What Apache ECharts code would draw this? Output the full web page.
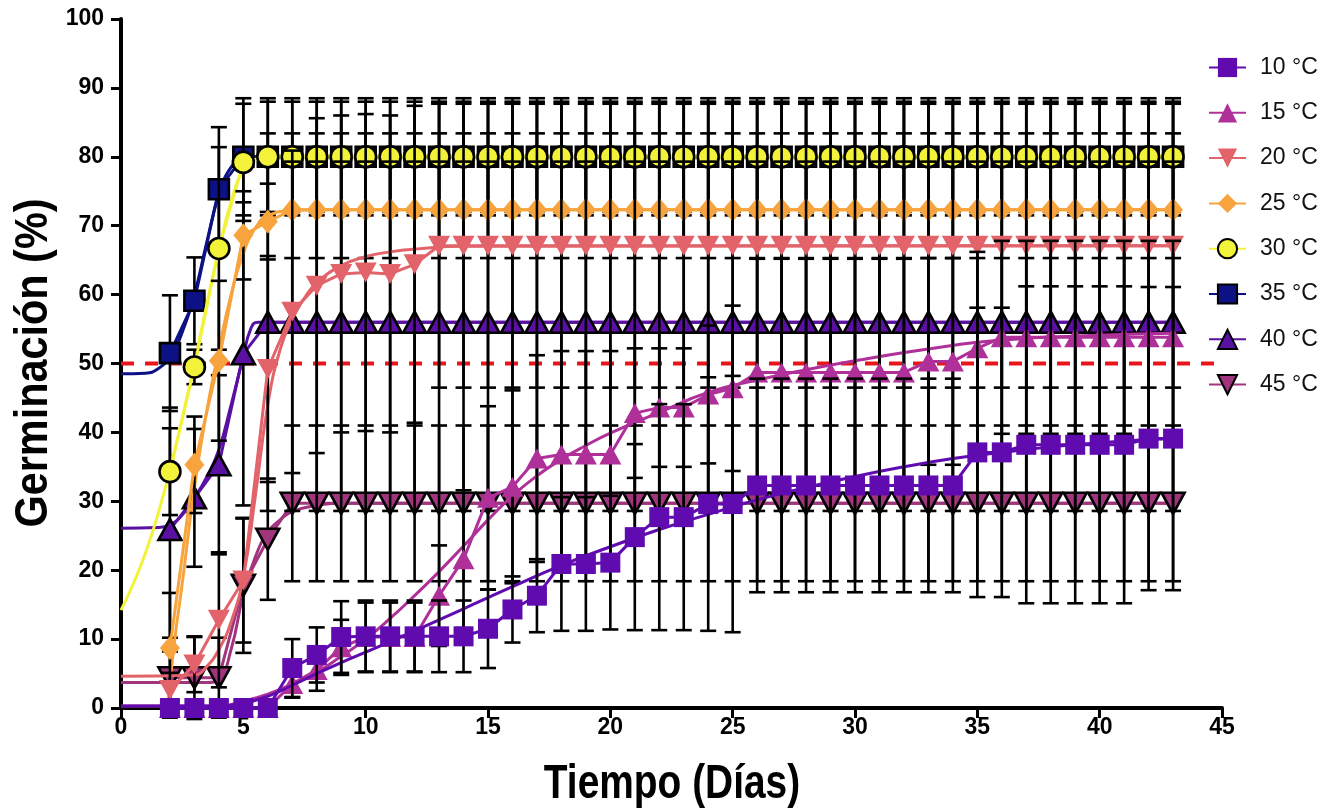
<!DOCTYPE html>
<html><head><meta charset="utf-8">
<script src="https://cdn.jsdelivr.net/npm/echarts@6/dist/echarts.min.js"></script>
<style>html,body{margin:0;padding:0;background:#fff}#c{width:1340px;height:812px}</style>
</head><body><div id="c"></div>
<script>
// ---- data ----
const days = [2,3,4,5,6,7,8,9,10,11,12,13,14,15,16,17,18,19,20,21,22,23,24,25,26,27,28,29,30,31,32,33,34,35,36,37,38,39,40,41,42,43];
const seriesNames = ['10 °C','15 °C','20 °C','25 °C','30 °C','35 °C','40 °C','45 °C'];
const xTitle = 'Tiempo (Días)';
const yTitle = 'Germinación (%)';

const m10 = [0,0,0,0,0, 5.8,7.7,10.3,10.4,10.4,10.4,10.4,10.4,11.5,14.3,16.3,20.9,20.9,21.1, 24.8,27.7,27.7,29.6,29.6, 32.3,32.3,32.3,32.3,32.3,32.3,32.3,32.3,32.3, 37.1,37.1, 38.2,38.2,38.2,38.2,38.2, 39.1,39.1];
const sd10 = [0,0,0,0,0, 4.2,4.0,5.2,5.2,5.2,5.2,5.2,5.2,5.7,4.8,5.3,9.7,9.7,9.7, 13.5,16.4,16.4,18.4,18.6, 15.5,15.5,15.5,15.5,15.5,15.5,15.5,15.5,15.5, 21,21, 23,23,23,23,23, 22,22];

const m15 = [0,0,0,0,0, 3.5,5.5,8.8,10.3,10.3,10.3,16.3,21.6,30.5,32.1,36.2,36.8,36.8,36.8, 42.8,43.6,43.6,45.5,46.4, 48.7,48.7,48.7,48.7,48.7,48.7,48.7,50.3,50.3, 52.2,53.8, 53.8,53.8,53.8,53.8,53.8, 53.8,53.8];
const sd15 = [0,0,0,0,0, 2,3,4,5,5,5,7.3,10,13.3,14,15,15,15,15, 9.4,8.6,8.6,10,12, 16.5,16.5,16.5,16.5,16.5,16.5,16.5,15,15, 14,14, 14,14,14,14,14, 14,14];

const m20 = [2.6,6.3,12.8,18.5,49.2,57.5,61.3,63.0,63.2,63.0,64.4, 67.1,67.1,67.1,67.1,67.1,67.1,67.1,67.1,67.1,67.1,67.1,67.1,67.1,67.1,67.1,67.1,67.1,67.1,67.1,67.1,67.1,67.1,67.1,67.1,67.1,67.1,67.1,67.1,67.1,67.1,67.1];
const sd20 = [2.5,4,9.8,9,16.4,23.4,24.3,23,23,23,23, 20.6,20.6,20.6,20.6,20.6,20.6,20.6,20.6,20.6,20.6,20.6,20.6,20.6,20.6,20.6,20.6,20.6,20.6,20.6,20.6,20.6,20.6,20.6,20.6,20.6,20.6,20.6,20.6,20.6,20.6,20.6];

const m25 = [8.7,35.3,50.4,68.6,70.6, 72.3,72.3,72.3,72.3,72.3,72.3,72.3,72.3,72.3,72.3,72.3,72.3,72.3,72.3,72.3,72.3,72.3,72.3,72.3,72.3,72.3,72.3,72.3,72.3,72.3,72.3,72.3,72.3,72.3,72.3,72.3,72.3,72.3,72.3,72.3,72.3,72.3];
const sd25 = [8,7,11.6,6.4,5.5, 7,7,7,7,7,7,7,7,7,7,7,7,7,7,7,7,7,7,7,7,7,7,7,7,7,7,7,7,7,7,7,7,7,7,7,7,7];

const m30 = [34.3,49.5,66.7,79.2, 80,80,80,80,80,80,80,80,80,80,80,80,80,80,80,80,80,80,80,80,80,80,80,80,80,80,80,80,80,80,80,80,80,80,80,80,80,80];
const sd30 = [6.3,2.5,14.7,8.5, 8,8,8,8,8,8,8,8,8,8,8,8,8,8,8,8,8,8,8,8,8,8,8,8,8,8,8,8,8,8,8,8,8,8,8,8,8,8];

const m35 = [51.5,59.1,75.3, 80,80,80,80,80,80,80,80,80,80,80,80,80,80,80,80,80,80,80,80,80,80,80,80,80,80,80,80,80,80,80,80,80,80,80,80,80,80,80];
const sd35 = [8.4,6.3,9, 8.5,8.5,8.5,8.5,8.5,8.5,8.5,8.5,8.5,8.5,8.5,8.5,8.5,8.5,8.5,8.5,8.5,8.5,8.5,8.5,8.5,8.5,8.5,8.5,8.5,8.5,8.5,8.5,8.5,8.5,8.5,8.5,8.5,8.5,8.5,8.5,8.5,8.5,8.5];

const m40 = [25.9,30.5,35.3,51.4, 56,56,56,56,56,56,56,56,56,56,56,56,56,56,56,56,56,56,56,56,56,56,56,56,56,56,56,56,56,56,56,56,56,56,56,56,56,56];
const sd40 = [17.7,10,13,22, 27.4,27.4,27.4,27.4,27.4,27.4,27.4,27.4,27.4,27.4,27.4,27.4,27.4,27.4,27.4,27.4,27.4,27.4,27.4,27.4,27.4,27.4,27.4,27.4,27.4,27.4,27.4,27.4,27.4,27.4,27.4,27.4,27.4,27.4,27.4,27.4,27.4,27.4];

const m45 = [4.4,4.4,4.4,17.8,24.5, 29.7,29.7,29.7,29.7,29.7,29.7,29.7,29.7,29.7,29.7,29.7,29.7,29.7,29.7,29.7,29.7,29.7,29.7,29.7,29.7,29.7,29.7,29.7,29.7,29.7,29.7,29.7,29.7,29.7,29.7,29.7,29.7,29.7,29.7,29.7,29.7,29.7];
const sd45 = [5.8,6,5.8,9.8,8.8, 11.3,11.3,11.3,11.3,11.3,11.3,11.3,11.3,11.3,11.3,11.3,11.3,11.3,11.3,11.3,11.3,11.3,11.3,11.3,11.3,11.3,11.3,11.3,11.3,11.3,11.3,11.3,11.3,11.3,11.3,11.3,11.3,11.3,11.3,11.3,11.3,11.3];

// fitted curves (day, value)
const fit10x = [0,4,5,6,7,8,9,10,12,14,16,18,20,22,24,26,28,30,32,34,36,38,40,43];
const fit10y = [0.3,0.3,0.7,1.7,3.3,5.0,6.6,8.1,11.2,14.4,17.6,20.7,23.4,25.9,28.1,30.2,32.0,33.6,35.0,36.2,37.1,37.9,38.5,39.1];
const fit15x = [0,4,5,6,7,8,9,10,11,12,13,14,15,16,17,18,19,20,22,24,26,28,30,33,36,40,43];
const fit15y = [0.3,0.3,1,2,3.5,5.2,7.5,10,13,16.3,19.8,23.5,27.3,30.8,33.7,36.1,38.1,39.9,42.9,45.8,47.6,49.1,50.4,52.1,53.4,54.1,54.4];
const fit20x = [0,3,3.5,4,4.5,5,5.5,6,6.5,7,7.5,8,9,10,11,12,14,43];
const fit20y = [4.6,4.8,6,8.5,12.5,19,31,44,52,56.5,59.5,61.7,64.2,65.5,66.2,66.6,67,67.1];
const fit25x = [1.9,2.2,2.5,3,3.5,4,4.5,5,5.5,6,7,8,43];
const fit25y = [0,10,18,32,43,52,60,66,69.7,71.4,72.2,72.3,72.3];
const fit30x = [0,0.5,1,1.5,2,2.5,3,3.5,4,4.5,5,5.5,6,43];
const fit30y = [14.2,18,22.5,28,34.5,42,50,58.5,66.5,73.5,78,79.6,80,80];
const fit35x = [0,1,1.5,2,2.5,3,3.5,4,4.5,5,5.5,43];
const fit35y = [48.5,48.6,49.2,51,54.5,60,67.5,74.5,78.5,79.8,80,80];
const fit40x = [0,1.5,2,2.5,3,3.5,4,4.5,5,5.3,5.6,43];
const fit40y = [26.1,26.2,26.6,28,30.5,33.5,37.5,44,51,55,56,56];
const fit45x = [0,3.5,4,4.5,5,5.5,6,6.5,7,8,9,43];
const fit45y = [3.7,3.7,4.2,8.5,16.5,22,25.5,27.3,28.5,29.4,29.7,29.7];

const refX = [0,45];
const refY = [50,50];

const xTicks = [0,5,10,15,20,25,30,35,40,45];
const yTicks = [0,10,20,30,40,50,60,70,80,90,100];

// ---- styles ----
const defs = [
  {mean:m10, sd:sd10, fx:fit10x, fy:fit10y, color:'#600BB0', symbol:'rect', size:20, rot:0, border:0},
  {mean:m15, sd:sd15, fx:fit15x, fy:fit15y, color:'#B0309A', symbol:'triangle', size:[22,20], rot:0, border:0},
  {mean:m20, sd:sd20, fx:fit20x, fy:fit20y, color:'#E2636A', symbol:'triangle', size:[22,20], rot:180, border:0},
  {mean:m25, sd:sd25, fx:fit25x, fy:fit25y, color:'#F7A43E', symbol:'diamond', size:[20,24], rot:0, border:0},
  {mean:m30, sd:sd30, fx:fit30x, fy:fit30y, color:'#F2F23A', symbol:'circle', size:21, rot:0, border:2.6},
  {mean:m35, sd:sd35, fx:fit35x, fy:fit35y, color:'#0C1285', symbol:'rect', size:20, rot:0, border:2.6},
  {mean:m40, sd:sd40, fx:fit40x, fy:fit40y, color:'#5A10A2', symbol:'triangle', size:[23,21], rot:0, border:2.6},
  {mean:m45, sd:sd45, fx:fit45x, fy:fit45y, color:'#A0357E', symbol:'triangle', size:[23,21], rot:180, border:2.6}
];

function errRender(params, api){
  const x = api.value(0), lo = api.value(1), hi = api.value(2);
  if (hi - lo <= 0) return null;
  const a = api.coord([x, lo]), b = api.coord([x, hi]);
  const w = 8, st = {stroke:'#000', lineWidth:2.6};
  return {type:'group', children:[
    {type:'line', shape:{x1:a[0], y1:a[1], x2:b[0], y2:b[1]}, style:st},
    {type:'line', shape:{x1:b[0]-w, y1:b[1], x2:b[0]+w, y2:b[1]}, style:st},
    {type:'line', shape:{x1:a[0]-w, y1:a[1], x2:a[0]+w, y2:a[1]}, style:st}
  ]};
}

const series = [];
series.push({
  type:'line', name:'ref', data: refX.map((x,i)=>[x, refY[i]]), symbol:'none', silent:true,
  lineStyle:{color:'#E8161B', width:4, type:[13,11]}, z:1
});
// draw 45 °C first (bottom) ... 10 °C last (top)
for (let k = 7; k >= 0; k--) {
  const d = defs[k], name = seriesNames[k];
  const layer = 7 - k;
  series.push({
    type:'line', name: name + ' fit', data: d.fx.map((x,i)=>[x, d.fy[i]]),
    symbol:'none', smooth:0.5, silent:true,
    lineStyle:{color:d.color, width:3}, z: 10 + layer*4
  });
  series.push({
    type:'custom', name: name + ' err', renderItem: errRender, silent:true,
    data: days.map((x,i)=>[x, d.mean[i]-d.sd[i], d.mean[i]+d.sd[i]]),
    encode:{x:0, y:[1,2]}, z: 11 + layer*4
  });
  series.push({
    type:'line', name: name, data: days.map((x,i)=>[x, d.mean[i]]),
    symbol:d.symbol, symbolSize:d.size, symbolRotate:d.rot, showAllSymbol:true,
    itemStyle:{color:d.color, borderColor:'#000', borderWidth:d.border},
    lineStyle:{color:d.color, width:3}, z: 12 + layer*4, clip:false
  });
}

const chart = echarts.init(document.getElementById('c'), null, {renderer:'canvas'});
chart.setOption({
  animation:false,
  backgroundColor:'#fff',
  grid:{left:121, right:118, top:19, bottom:104, containLabel:false},
  legend:{
    data: seriesNames, orient:'vertical', left:1203, top:51,
    itemWidth:37, itemHeight:24, itemGap:22.3, symbolRotate:'inherit',
    textStyle:{fontFamily:'Liberation Sans, Arial, sans-serif', fontSize:23, color:'#111', padding:[0,0,0,9]},
    selectedMode:false
  },
  graphic:[
    {type:'text', x:672, y:785, scaleX:0.81, silent:true,
     style:{text:xTitle, font:'bold 48px "Liberation Sans", Arial, sans-serif', fill:'#000', align:'center', verticalAlign:'middle'}},
    {type:'text', x:34, y:363, rotation:Math.PI/2, scaleX:0.9, silent:true,
     style:{text:yTitle, font:'bold 46px "Liberation Sans", Arial, sans-serif', fill:'#000', align:'center', verticalAlign:'middle'}}
  ],
  xAxis:{
    type:'value', min:0, max:45, interval:5,
    axisLine:{lineStyle:{color:'#000', width:4}},
    axisTick:{length:10, lineStyle:{color:'#000', width:3}},
    axisLabel:{margin:8, color:'#000', fontWeight:'bold', fontSize:23, fontFamily:'Liberation Sans, Arial, sans-serif',
      formatter: v => xTicks.indexOf(v) >= 0 ? String(v) : ''},
    splitLine:{show:false}
  },
  yAxis:{
    type:'value', min:0, max:100, interval:10,
    axisLine:{show:true, lineStyle:{color:'#000', width:4}},
    axisTick:{show:true, length:10, lineStyle:{color:'#000', width:3}},
    axisLabel:{margin:17, color:'#000', fontWeight:'bold', fontSize:23, fontFamily:'Liberation Sans, Arial, sans-serif',
      formatter: v => yTicks.indexOf(v) >= 0 ? String(v) : ''},
    splitLine:{show:false}
  },
  series: series
});
</script></body></html>
